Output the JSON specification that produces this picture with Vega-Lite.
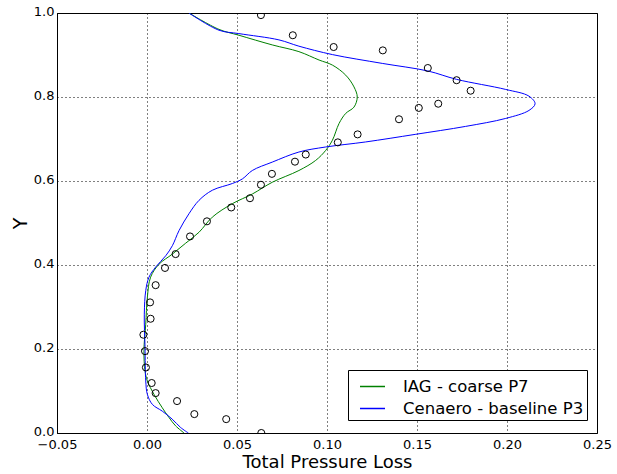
{
  "$schema": "https://vega.github.io/schema/vega-lite/v6.json",
  "width": 540,
  "height": 420,
  "autosize": {"type": "none"},
  "padding": {"left": 57, "top": 13, "right": 20, "bottom": 41},
  "background": "white",
  "datasets": {
    "lines": [
      {"s": "IAG - coarse P7", "i": 1, "x": 0.0233, "y": 1.0},
      {"s": "IAG - coarse P7", "i": 2, "x": 0.040, "y": 0.961},
      {"s": "IAG - coarse P7", "i": 3, "x": 0.0511, "y": 0.947},
      {"s": "IAG - coarse P7", "i": 4, "x": 0.0696, "y": 0.924},
      {"s": "IAG - coarse P7", "i": 5, "x": 0.0844, "y": 0.908},
      {"s": "IAG - coarse P7", "i": 6, "x": 0.0956, "y": 0.888},
      {"s": "IAG - coarse P7", "i": 7, "x": 0.103, "y": 0.876},
      {"s": "IAG - coarse P7", "i": 8, "x": 0.1104, "y": 0.852},
      {"s": "IAG - coarse P7", "i": 9, "x": 0.115, "y": 0.824},
      {"s": "IAG - coarse P7", "i": 10, "x": 0.1168, "y": 0.800},
      {"s": "IAG - coarse P7", "i": 11, "x": 0.115, "y": 0.776},
      {"s": "IAG - coarse P7", "i": 12, "x": 0.1104, "y": 0.761},
      {"s": "IAG - coarse P7", "i": 13, "x": 0.1067, "y": 0.737},
      {"s": "IAG - coarse P7", "i": 14, "x": 0.103, "y": 0.697},
      {"s": "IAG - coarse P7", "i": 15, "x": 0.0993, "y": 0.673},
      {"s": "IAG - coarse P7", "i": 16, "x": 0.0937, "y": 0.649},
      {"s": "IAG - coarse P7", "i": 17, "x": 0.0844, "y": 0.625},
      {"s": "IAG - coarse P7", "i": 18, "x": 0.0696, "y": 0.597},
      {"s": "IAG - coarse P7", "i": 19, "x": 0.0585, "y": 0.569},
      {"s": "IAG - coarse P7", "i": 20, "x": 0.0474, "y": 0.546},
      {"s": "IAG - coarse P7", "i": 21, "x": 0.0363, "y": 0.514},
      {"s": "IAG - coarse P7", "i": 22, "x": 0.0289, "y": 0.478},
      {"s": "IAG - coarse P7", "i": 23, "x": 0.0215, "y": 0.452},
      {"s": "IAG - coarse P7", "i": 24, "x": 0.0141, "y": 0.426},
      {"s": "IAG - coarse P7", "i": 25, "x": 0.0067, "y": 0.402},
      {"s": "IAG - coarse P7", "i": 26, "x": 0.002, "y": 0.371},
      {"s": "IAG - coarse P7", "i": 27, "x": 0.0002, "y": 0.323},
      {"s": "IAG - coarse P7", "i": 28, "x": -0.0007, "y": 0.259},
      {"s": "IAG - coarse P7", "i": 29, "x": -0.0017, "y": 0.196},
      {"s": "IAG - coarse P7", "i": 30, "x": -0.0011, "y": 0.148},
      {"s": "IAG - coarse P7", "i": 31, "x": 0.0002, "y": 0.124},
      {"s": "IAG - coarse P7", "i": 32, "x": 0.0039, "y": 0.092},
      {"s": "IAG - coarse P7", "i": 33, "x": 0.0085, "y": 0.060},
      {"s": "IAG - coarse P7", "i": 34, "x": 0.0122, "y": 0.037},
      {"s": "IAG - coarse P7", "i": 35, "x": 0.0159, "y": 0.017},
      {"s": "IAG - coarse P7", "i": 36, "x": 0.0206, "y": 0.0},
      {"s": "Cenaero - baseline P3", "i": 1, "x": 0.0233, "y": 1.0},
      {"s": "Cenaero - baseline P3", "i": 2, "x": 0.040, "y": 0.959},
      {"s": "Cenaero - baseline P3", "i": 3, "x": 0.051, "y": 0.951},
      {"s": "Cenaero - baseline P3", "i": 4, "x": 0.0733, "y": 0.936},
      {"s": "Cenaero - baseline P3", "i": 5, "x": 0.0844, "y": 0.921},
      {"s": "Cenaero - baseline P3", "i": 6, "x": 0.103, "y": 0.901},
      {"s": "Cenaero - baseline P3", "i": 7, "x": 0.1307, "y": 0.880},
      {"s": "Cenaero - baseline P3", "i": 8, "x": 0.156, "y": 0.862},
      {"s": "Cenaero - baseline P3", "i": 9, "x": 0.172, "y": 0.842},
      {"s": "Cenaero - baseline P3", "i": 10, "x": 0.1993, "y": 0.818},
      {"s": "Cenaero - baseline P3", "i": 11, "x": 0.2122, "y": 0.802},
      {"s": "Cenaero - baseline P3", "i": 12, "x": 0.2156, "y": 0.784},
      {"s": "Cenaero - baseline P3", "i": 13, "x": 0.2122, "y": 0.768},
      {"s": "Cenaero - baseline P3", "i": 14, "x": 0.1993, "y": 0.749},
      {"s": "Cenaero - baseline P3", "i": 15, "x": 0.177, "y": 0.730},
      {"s": "Cenaero - baseline P3", "i": 16, "x": 0.149, "y": 0.711},
      {"s": "Cenaero - baseline P3", "i": 17, "x": 0.1215, "y": 0.693},
      {"s": "Cenaero - baseline P3", "i": 18, "x": 0.0993, "y": 0.681},
      {"s": "Cenaero - baseline P3", "i": 19, "x": 0.0844, "y": 0.669},
      {"s": "Cenaero - baseline P3", "i": 20, "x": 0.0696, "y": 0.645},
      {"s": "Cenaero - baseline P3", "i": 21, "x": 0.0585, "y": 0.625},
      {"s": "Cenaero - baseline P3", "i": 22, "x": 0.053, "y": 0.605},
      {"s": "Cenaero - baseline P3", "i": 23, "x": 0.0474, "y": 0.594},
      {"s": "Cenaero - baseline P3", "i": 24, "x": 0.0363, "y": 0.578},
      {"s": "Cenaero - baseline P3", "i": 25, "x": 0.0289, "y": 0.554},
      {"s": "Cenaero - baseline P3", "i": 26, "x": 0.0233, "y": 0.522},
      {"s": "Cenaero - baseline P3", "i": 27, "x": 0.0178, "y": 0.482},
      {"s": "Cenaero - baseline P3", "i": 28, "x": 0.0141, "y": 0.446},
      {"s": "Cenaero - baseline P3", "i": 29, "x": 0.0104, "y": 0.422},
      {"s": "Cenaero - baseline P3", "i": 30, "x": 0.0048, "y": 0.395},
      {"s": "Cenaero - baseline P3", "i": 31, "x": 0.0011, "y": 0.371},
      {"s": "Cenaero - baseline P3", "i": 32, "x": -0.0007, "y": 0.339},
      {"s": "Cenaero - baseline P3", "i": 33, "x": -0.0015, "y": 0.283},
      {"s": "Cenaero - baseline P3", "i": 34, "x": -0.0011, "y": 0.204},
      {"s": "Cenaero - baseline P3", "i": 35, "x": -0.0007, "y": 0.124},
      {"s": "Cenaero - baseline P3", "i": 36, "x": 0.0002, "y": 0.092},
      {"s": "Cenaero - baseline P3", "i": 37, "x": 0.003, "y": 0.068},
      {"s": "Cenaero - baseline P3", "i": 38, "x": 0.0085, "y": 0.052},
      {"s": "Cenaero - baseline P3", "i": 39, "x": 0.014, "y": 0.033},
      {"s": "Cenaero - baseline P3", "i": 40, "x": 0.0187, "y": 0.013},
      {"s": "Cenaero - baseline P3", "i": 41, "x": 0.023, "y": 0.0}
    ],
    "exp": [
      {"x": 0.0633, "y": 0.995},
      {"x": 0.081, "y": 0.947},
      {"x": 0.1037, "y": 0.919},
      {"x": 0.131, "y": 0.911},
      {"x": 0.156, "y": 0.869},
      {"x": 0.172, "y": 0.840},
      {"x": 0.1798, "y": 0.815},
      {"x": 0.1618, "y": 0.784},
      {"x": 0.151, "y": 0.774},
      {"x": 0.140, "y": 0.747},
      {"x": 0.117, "y": 0.711},
      {"x": 0.106, "y": 0.692},
      {"x": 0.0882, "y": 0.663},
      {"x": 0.0822, "y": 0.646},
      {"x": 0.0694, "y": 0.617},
      {"x": 0.0633, "y": 0.591},
      {"x": 0.0572, "y": 0.559},
      {"x": 0.0468, "y": 0.537},
      {"x": 0.0333, "y": 0.504},
      {"x": 0.0239, "y": 0.468},
      {"x": 0.0159, "y": 0.426},
      {"x": 0.010, "y": 0.393},
      {"x": 0.0048, "y": 0.352},
      {"x": 0.0017, "y": 0.311},
      {"x": 0.002, "y": 0.272},
      {"x": -0.002, "y": 0.234},
      {"x": -0.0011, "y": 0.195},
      {"x": -0.0006, "y": 0.156},
      {"x": 0.0026, "y": 0.119},
      {"x": 0.0048, "y": 0.095},
      {"x": 0.0167, "y": 0.076},
      {"x": 0.0263, "y": 0.045},
      {"x": 0.044, "y": 0.033},
      {"x": 0.0635, "y": 0.0}
    ]
  },
  "layer": [
    {
      "data": {"name": "lines"},
      "mark": {"type": "line", "strokeWidth": 1, "clip": true, "interpolate": "catmull-rom"},
      "encoding": {
        "x": {"field": "x", "type": "quantitative"},
        "y": {"field": "y", "type": "quantitative"},
        "order": {"field": "i", "type": "quantitative"},
        "color": {
          "field": "s",
          "type": "nominal",
          "scale": {"domain": ["IAG - coarse P7", "Cenaero - baseline P3"], "range": ["#008000", "#0000ff"]},
          "legend": {
            "title": null,
            "orient": "none",
            "legendX": 291,
            "legendY": 357,
            "symbolType": "stroke",
            "symbolSize": 625,
            "symbolStrokeWidth": 1.5,
            "symbolOffset": 8,
            "labelOffset": 17,
            "labelLimit": 400,
            "labelFont": "DejaVu Sans",
            "labelFontSize": 16.5,
            "labelColor": "black",
            "rowPadding": 0,
            "padding": 3,
            "strokeColor": "black",
            "fillColor": "white",
            "cornerRadius": 0
          }
        }
      }
    },
    {
      "data": {"name": "exp"},
      "mark": {"type": "point", "shape": "circle", "filled": false, "stroke": "black", "strokeWidth": 1, "size": 50, "clip": true, "opacity": 1},
      "encoding": {
        "x": {"field": "x", "type": "quantitative"},
        "y": {"field": "y", "type": "quantitative"}
      }
    }
  ],
  "encoding": {
    "x": {
      "field": "x",
      "type": "quantitative",
      "title": "Total Pressure Loss",
      "scale": {"domain": [-0.05, 0.25], "nice": false, "zero": false},
      "axis": {"values": [-0.05, 0, 0.05, 0.1, 0.15, 0.2, 0.25], "format": ".2f", "labelPadding": 5.5, "titlePadding": 2, "titleFontSize": 18}
    },
    "y": {
      "field": "y",
      "type": "quantitative",
      "title": "Y",
      "scale": {"domain": [0, 1], "nice": false},
      "axis": {"values": [0, 0.2, 0.4, 0.6, 0.8, 1.0], "format": ".1f", "labelPadding": 3, "titlePadding": 3, "labelOffset": -2}
    }
  },
  "config": {
    "view": {"stroke": "black", "strokeWidth": 1},
    "axis": {
      "grid": true,
      "gridColor": "black",
      "gridDash": [1, 3],
      "gridWidth": 1,
      "gridOpacity": 1,
      "domainColor": "black",
      "domainWidth": 1,
      "ticks": false,
      "labelFont": "DejaVu Sans",
      "labelFontSize": 13,
      "labelColor": "black",
      "labelFlush": false,
      "labelOverlap": false,
      "titleFont": "DejaVu Sans",
      "titleFontSize": 19,
      "titleFontWeight": "normal",
      "titleColor": "black"
    }
  }
}
